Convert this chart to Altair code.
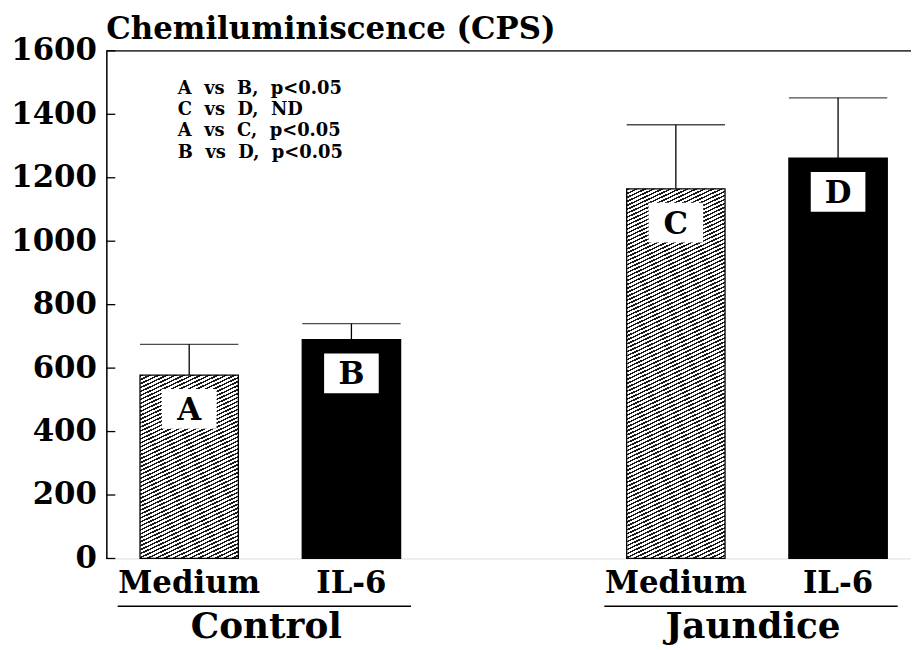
import math
import altair as alt
import pandas as pd

# ---- data ----
groups = ["Control", "Control", "Jaundice", "Jaundice"]
treatments = ["Medium", "IL-6", "Medium", "IL-6"]
letters = ["A", "B", "C", "D"]
means = [578, 690, 1165, 1262]
sems = [97, 50, 202, 190]
y_ticks = [0, 200, 400, 600, 800, 1000, 1200, 1400, 1600]
group_names = ["Control", "Jaundice"]
stats_lines = ["A  vs  B,  p<0.05", "C  vs  D,  ND", "A  vs  C,  p<0.05", "B  vs  D,  p<0.05"]
title_text = "Chemiluminiscence (CPS)"

# ---- layout / style ----
PLOT_W, PLOT_H = 810, 511
X_RANGE = 820
PI, PO = 0.3945, 0.208
BAR_W = 99
FONT = "DejaVu Serif"
YMAX = 1600

keys = [f"{g}|{t}" for g, t in zip(groups, treatments)]
domain = [keys[0], keys[1], "gap", keys[2], keys[3]]
step = X_RANGE / (len(domain) - PI + 2 * PO)

df = pd.DataFrame({"key": keys, "group": groups, "treatment": treatments,
                   "letter": letters, "mean": means, "sem": sems})
df["upper"] = df["mean"] + df["sem"]

gdf = pd.DataFrame({"group": group_names,
                    "first": [keys[0], keys[2]],
                    "second": [keys[1], keys[3]]})
tdf = pd.DataFrame({"t": y_ticks})


def hatch(value, angle=25.0, period=3.6, ink=0.42):
    w = BAR_W
    h = value / YMAX * PLOT_H
    s, c = math.sin(math.radians(angle)), math.cos(math.radians(angle))
    D = w * s + h * c
    k = D / (w * w * s * s + h * h * c * c)
    n = max(1, round(D / period))
    stops = []
    for i in range(n):
        a, b, e = i / n, (i + ink) / n, (i + 1) / n
        stops += [{"offset": a, "color": "#1a1a1a"}, {"offset": b, "color": "#1a1a1a"},
                  {"offset": b, "color": "#ffffff"}, {"offset": e, "color": "#ffffff"}]
    return {"gradient": "linear", "x1": 0, "y1": 0, "x2": k * w * s, "y2": k * h * c, "stops": stops}


xscale = alt.Scale(domain=domain, range=[0, X_RANGE], paddingInner=PI, paddingOuter=PO)
yscale = alt.Scale(domain=[0, YMAX], nice=False, zero=True)

x_axis = alt.Axis(labels=False, ticks=False, title=None, domainColor="black", domainWidth=1.5, grid=False)
y_axis = alt.Axis(values=y_ticks, format="d", ticks=False, tickSize=0, title=None, grid=False,
                  labelFont=FONT, labelFontWeight="bold", labelFontSize=31, labelColor="black",
                  labelPadding=10, domainColor="black", domainWidth=1.5)

xk = alt.X("key:N", scale=xscale, axis=x_axis)
xk_noaxis = alt.X("key:N", scale=xscale, axis=None)

base = alt.Chart(df)

layers = []
# hatched Medium bars, one layer each (hatch scaled to bar size)
for key, m, t in zip(keys, means, treatments):
    if t == "Medium":
        layers.append(
            base.transform_filter(alt.datum.key == key)
            .mark_bar(fill=hatch(m), stroke="black", strokeWidth=1.3, width=BAR_W)
            .encode(x=xk, y=alt.Y("mean:Q", scale=yscale, axis=y_axis))
        )
# solid IL-6 bars
layers.append(
    base.transform_filter(alt.datum.treatment == "IL-6")
    .mark_bar(fill="black", stroke="black", strokeWidth=1.3, width=BAR_W)
    .encode(x=xk, y=alt.Y("mean:Q", scale=yscale))
)
# error whiskers
layers.append(
    base.mark_rule(color="black", strokeWidth=1.3)
    .encode(x=xk_noaxis, y=alt.Y("mean:Q", scale=yscale), y2="upper:Q")
)
layers.append(
    base.mark_tick(color="black", thickness=1.3, size=BAR_W, orient="horizontal")
    .encode(x=xk_noaxis, y=alt.Y("upper:Q", scale=yscale))
)
# white label boxes
layers.append(
    base.mark_point(shape="M-1.375,-1L1.375,-1L1.375,1L-1.375,1Z", size=1600, filled=True,
                    fill="white", opacity=1, strokeWidth=0, yOffset=34)
    .encode(x=xk_noaxis, y=alt.Y("mean:Q", scale=yscale))
)
layers.append(
    base.mark_text(font=FONT, fontWeight="bold", fontSize=31, color="black",
                   baseline="alphabetic", align="center", dy=45)
    .encode(x=xk_noaxis, y=alt.Y("mean:Q", scale=yscale), text="letter:N")
)
# inner y ticks
layers.append(
    alt.Chart(tdf).mark_rule(color="black", strokeWidth=1.3)
    .encode(y=alt.Y("t:Q", scale=yscale), x=alt.value(0), x2=alt.value(9))
)
# top frame line
layers.append(
    alt.Chart(tdf).transform_filter(alt.datum.t == YMAX)
    .mark_rule(color="black", strokeWidth=1.3)
    .encode(y=alt.Y("t:Q", scale=yscale), x=alt.value(0), x2=alt.value(PLOT_W))
)
# treatment labels
layers.append(
    base.mark_text(font=FONT, fontWeight="bold", fontSize=31, color="black",
                   baseline="alphabetic", align="center")
    .encode(x=xk_noaxis, y=alt.value(546), text="treatment:N")
)
# group underline
layers.append(
    alt.Chart(gdf).mark_rule(color="black", strokeWidth=1.5, xOffset=-72, x2Offset=60)
    .encode(x=alt.X("first:N", scale=xscale, axis=None), x2="second:N", y=alt.value(559))
)
# group labels
layers.append(
    alt.Chart(gdf).mark_text(font=FONT, fontWeight="bold", fontSize=36, color="black",
                             baseline="alphabetic", align="center", xOffset=step / 2 - 4)
    .encode(x=alt.X("first:N", scale=xscale, axis=None), y=alt.value(591), text="group:N")
)
# statistics annotation
layers.append(
    alt.Chart(tdf).transform_filter(alt.datum.t == 0)
    .mark_text(font=FONT, fontWeight="bold", fontSize=18, color="black", align="left",
               baseline="alphabetic", lineHeight=21.5)
    .encode(x=alt.value(72), y=alt.value(43),
            text=alt.value([s.replace(" ", "\u00a0") for s in stats_lines]))
)
# title
layers.append(
    alt.Chart(tdf).transform_filter(alt.datum.t == 0)
    .mark_text(font=FONT, fontWeight="bold", fontSize=31, color="black", align="left",
               baseline="alphabetic")
    .encode(x=alt.value(0), y=alt.value(-12), text=alt.value(title_text))
)

chart = (
    alt.layer(*layers)
    .properties(width=PLOT_W, height=PLOT_H, autosize="none",
                padding={"left": 99, "top": 41, "right": 0, "bottom": 89})
    .configure_view(stroke=None)
    .configure(background="white")
)

chart.save("out.html", embed_options={"renderer": "svg", "actions": False})
